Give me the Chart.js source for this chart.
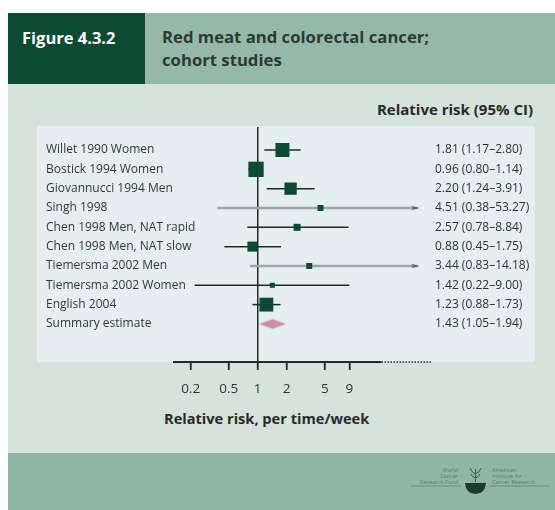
<!DOCTYPE html>
<html>
<head>
<meta charset="utf-8">
<script src="https://cdn.jsdelivr.net/npm/chart.js@4.4.1/dist/chart.umd.min.js"></script>
<style>
  html, body { margin: 0; padding: 0; background: #ffffff; }
  body { width: 555px; height: 510px; position: relative; overflow: hidden; font-family: "Open Sans", sans-serif; }
  .box { position: absolute; white-space: nowrap; }
  #hdrDark { left: 8px; top: 13px; width: 137px; height: 71px; background: #0b4a33; }
  #hdrLight { left: 145px; top: 13px; right: 0; height: 71px; background: #95b9a9; }
  #panel { left: 8px; top: 84px; right: 0; height: 369px; background: #d6e3dd; }
  #plotBg { left: 37px; top: 126px; width: 498px; height: 236px; background: #e5eff1; }
  #footer { left: 8px; top: 453px; right: 0; bottom: 0; background: #8fb7a4; }
  #figNo { left: 22px; top: 27px; color: #ffffff; font-weight: 700; font-size: 16.5px; line-height: 22px; }
  #figTitle { left: 162px; top: 25px; color: #2c3a33; font-weight: 700; font-size: 16.7px; line-height: 23px; }
  #ciHead { right: 22px; top: 99px; color: #2a2a2a; font-weight: 700; font-size: 15px; line-height: 20px; }
  #xTitle { left: 164px; top: 408px; color: #2a2a2a; font-weight: 700; font-size: 14.6px; line-height: 20px; }
  #chart { position: absolute; left: 0; top: 0; }
  #logo { position: absolute; left: 405px; top: 460px; }
</style>
</head>
<body>
<div class="box" id="hdrDark"></div>
<div class="box" id="hdrLight"></div>
<div class="box" id="panel"></div>
<div class="box" id="plotBg"></div>
<div class="box" id="footer"></div>
<div class="box" id="figNo">Figure 4.3.2</div>
<div class="box" id="figTitle">Red meat and colorectal cancer;<br>cohort studies</div>
<div class="box" id="ciHead">Relative risk (95% CI)</div>
<div class="box" id="xTitle">Relative risk, per time/week</div>

<svg id="logo" width="150" height="45" viewBox="0 0 150 45">
  <g fill="#5b7a6c" font-family="Open Sans, sans-serif" font-size="5.5">
    <text x="53" y="12" text-anchor="end">World</text>
    <text x="53" y="18" text-anchor="end">Cancer</text>
    <text x="53" y="24" text-anchor="end">Research Fund</text>
    <text x="87" y="12">American</text>
    <text x="87" y="18">Institute for</text>
    <text x="87" y="24">Cancer Research</text>
  </g>
  <g stroke="#5b7a6c" stroke-width="0.7">
    <line x1="6" y1="26" x2="56" y2="26"/>
    <line x1="85" y1="26" x2="145" y2="26"/>
  </g>
  <path d="M60 23 L81 23 Q80 34 70.5 34 Q61 34 60 23 Z" fill="#1f3a2e"/>
  <g stroke="#3d5a4c" stroke-width="1" fill="none">
    <path d="M70.5 22 L70.5 9"/>
    <path d="M70.5 14 Q66 12 65 8"/>
    <path d="M70.5 14 Q75 12 76 8"/>
    <path d="M70.5 18 Q67 17 66 14"/>
    <path d="M70.5 18 Q74 17 75 14"/>
  </g>
</svg>

<canvas id="chart" width="555" height="510"></canvas>

<script>
// Cohort studies of red meat intake and colorectal cancer
const studies = [
  "Willet 1990 Women",
  "Bostick 1994 Women",
  "Giovannucci 1994 Men",
  "Singh 1998",
  "Chen 1998 Men, NAT rapid",
  "Chen 1998 Men, NAT slow",
  "Tiemersma 2002 Men",
  "Tiemersma 2002 Women",
  "English 2004",
  "Summary estimate"
];
const relRisk = [1.81, 0.96, 2.20, 4.51, 2.57, 0.88, 3.44, 1.42, 1.23, 1.43];
const ciLower = [1.17, 0.80, 1.24, 0.38, 0.78, 0.45, 0.83, 0.22, 0.88, 1.05];
const ciUpper = [2.80, 1.14, 3.91, 53.27, 8.84, 1.75, 14.18, 9.00, 1.73, 1.94];
// relative weight of each study (%), shown as marker area
const studyWeight = [19.2, 23.0, 14.8, 3.5, 4.8, 9.8, 3.5, 2.5, 18.8];

const xTicks = [0.2, 0.5, 1, 2, 5, 9];
const xMin = 0.131, xMax = 65.4;
const axisBreak = 19.5;   // axis runs on as a dotted line beyond this
const ciLimit = 10;       // upper limits above this are cut off with an arrow
const arrowTip = 47;      // where cut-off intervals end

const summaryIdx = studies.length - 1;
const fmt = v => v.toFixed(2);
const ciText = studies.map((_, i) => `${fmt(relRisk[i])} (${fmt(ciLower[i])}\u2013${fmt(ciUpper[i])})`);

const darkLine = '#1c2b24';
const greyLine = '#9ba6a6';
const squareFill = '#0c4a31';
const labelWidth = 127;   // room for the study names left of the plot

const isCut = i => ciUpper[i] > ciLimit;

// one short line per study for its confidence interval
const ciSets = studies.slice(0, summaryIdx).map((name, i) => ({
  type: 'line',
  label: name,
  data: [{ x: ciLower[i], y: i }, { x: isCut(i) ? arrowTip : ciUpper[i], y: i }],
  borderColor: isCut(i) ? greyLine : darkLine,
  borderWidth: isCut(i) ? 2.5 : 1.5,
  pointRadius: 0,
  fill: false,
  order: 2
}));

const markerRadius = studyWeight.map(w => 3.19 * Math.sqrt(w) / Math.SQRT2);
const squareSet = {
  type: 'scatter',
  label: 'Relative risk',
  data: studies.slice(0, summaryIdx).map((_, i) => ({ x: relRisk[i], y: i })),
  pointStyle: 'rect',
  pointRadius: markerRadius,
  pointHoverRadius: markerRadius,
  backgroundColor: squareFill,
  borderWidth: 0,
  order: 0
};

// study names, CI text, summary diamond, arrowheads and the broken x axis line
const forestExtras = {
  id: 'forestExtras',
  afterDatasetsDraw(chart) {
    const { ctx, chartArea, scales } = chart;
    const xs = scales.x, ys = scales.y;
    ctx.save();

    // row texts
    ctx.textBaseline = 'middle';
    ctx.textAlign = 'left';
    ctx.font = '12px "Open Sans"';
    studies.forEach((name, i) => {
      const py = ys.getPixelForValue(i);
      ctx.fillStyle = '#363636';
      ctx.fillText(name, chartArea.left - labelWidth, py);
      ctx.fillStyle = '#303030';
      ctx.fillText(ciText[i], chartArea.right + 3, py);
    });

    // arrowheads on truncated intervals
    ctx.fillStyle = '#5d6866';
    studies.forEach((_, i) => {
      if (i === summaryIdx || !isCut(i)) return;
      const tx = xs.getPixelForValue(arrowTip), ty = ys.getPixelForValue(i);
      ctx.beginPath();
      ctx.moveTo(tx + 1, ty);
      ctx.lineTo(tx - 7, ty - 2.2);
      ctx.lineTo(tx - 5, ty);
      ctx.lineTo(tx - 7, ty + 2.2);
      ctx.closePath();
      ctx.fill();
    });

    // summary estimate diamond
    const sy = ys.getPixelForValue(summaryIdx);
    const sl = xs.getPixelForValue(ciLower[summaryIdx]);
    const sr = xs.getPixelForValue(ciUpper[summaryIdx]);
    const sc = xs.getPixelForValue(relRisk[summaryIdx]);
    ctx.fillStyle = '#cc8ea4';
    ctx.shadowColor = 'rgba(204,142,164,0.8)';
    ctx.shadowBlur = 2;
    ctx.beginPath();
    ctx.moveTo(sl, sy);
    ctx.lineTo(sc, sy - 4.5);
    ctx.lineTo(sr, sy);
    ctx.lineTo(sc, sy + 4.5);
    ctx.closePath();
    ctx.fill();
    ctx.shadowBlur = 0;

    // x axis line: solid, then dotted
    const ay = chartArea.bottom;
    const bx = xs.getPixelForValue(axisBreak);
    ctx.strokeStyle = darkLine;
    ctx.lineWidth = 2;
    ctx.beginPath();
    ctx.moveTo(chartArea.left, ay);
    ctx.lineTo(bx, ay);
    ctx.stroke();
    ctx.lineWidth = 1.5;
    ctx.setLineDash([1.5, 1.5]);
    ctx.beginPath();
    ctx.moveTo(bx, ay);
    ctx.lineTo(chartArea.right, ay);
    ctx.stroke();
    ctx.restore();
  }
};

const rowTicks = scale => { scale.ticks = studies.map((_, i) => ({ value: i })); };

new Chart(document.getElementById('chart'), {
  data: { datasets: [squareSet, ...ciSets] },
  options: {
    responsive: false,
    animation: false,
    events: [],
    layout: { padding: { left: 46, right: 23, top: 127, bottom: 0 } },
    plugins: { legend: { display: false }, tooltip: { enabled: false } },
    scales: {
      x: {
        type: 'logarithmic',
        position: 'bottom',
        min: xMin,
        max: xMax,
        afterBuildTicks: scale => { scale.ticks = xTicks.map(v => ({ value: v })); },
        afterFit: scale => { scale.height = 148; },
        border: { display: false },
        grid: {
          drawOnChartArea: true,
          color: c => (c.tick && c.tick.value === 1 ? darkLine : 'rgba(0,0,0,0)'),
          lineWidth: 1.5,
          tickColor: darkLine,
          tickLength: 8,
          tickWidth: 1.8
        },
        ticks: {
          autoSkip: false,
          maxRotation: 0,
          padding: 11,
          color: '#333333',
          font: { family: 'Open Sans', size: 13.5 },
          callback: v => String(v)
        }
      },
      y: {
        type: 'linear',
        position: 'left',
        min: -1.19,
        max: 10.97,
        reverse: true,
        afterBuildTicks: rowTicks,
        afterFit: scale => { scale.width = labelWidth; },
        border: { display: false },
        grid: { display: false },
        ticks: { display: false }
      },
      y2: {
        type: 'linear',
        position: 'right',
        min: -1.19,
        max: 10.97,
        reverse: true,
        afterBuildTicks: rowTicks,
        afterFit: scale => { scale.width = 100; },
        border: { display: false },
        grid: { display: false },
        ticks: { display: false }
      }
    }
  },
  plugins: [forestExtras]
});
</script>
</body>
</html>
